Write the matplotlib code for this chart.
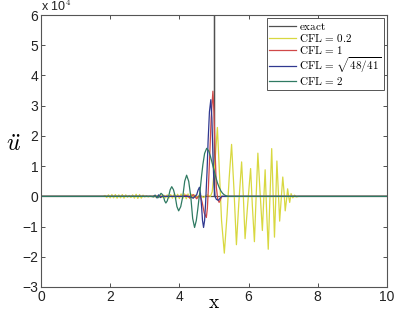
"""
plot.py - second time derivative of u for several CFL numbers
"""

import matplotlib
matplotlib.use("Agg")
import matplotlib.pyplot as plt

# values in units of 1e4
x_exact = [0.0, 5.0, 5.0, 5.0, 10.0]
u_exact = [0.0, 0.0, 7.0, 0.0, 0.0]

x_cfl02 = [0.0, 1.80, 1.85, 1.90, 1.95, 2.00, 2.05, 2.10, 2.15, 2.20, 2.25,
           2.30, 2.35, 2.40, 2.45, 2.50, 2.55, 2.60, 2.65, 2.70, 2.75, 2.80,
           2.85, 2.90, 2.95, 3.00, 3.05, 3.10, 3.15, 3.20, 3.25, 3.30, 3.35,
           3.40, 3.45, 3.50, 3.55, 3.60, 3.65, 3.70, 3.75, 3.80, 3.85, 3.90,
           3.95, 4.00, 4.05, 4.10, 4.15, 4.20, 4.25, 4.30, 4.35, 4.40, 4.45,
           4.50, 4.60, 4.70, 4.80, 4.90, 4.95, 5.02, 5.10, 5.17, 5.22, 5.30,
           5.38, 5.44, 5.51, 5.58, 5.65, 5.72, 5.80, 5.85, 5.90, 5.98, 6.06,
           6.11, 6.17, 6.22, 6.27, 6.33, 6.40, 6.44, 6.48, 6.52, 6.57, 6.62,
           6.67, 6.71, 6.75, 6.79, 6.82, 6.86, 6.90, 6.95, 6.99, 7.03, 7.06,
           7.10, 7.13, 7.16, 7.19, 7.23, 7.28, 7.33, 7.38, 7.45, 10.0]
u_cfl02 = [0.0, 0.0, 0.03, -0.04, 0.05, -0.05, 0.06, -0.05, 0.06, -0.06, 0.05,
           -0.05, 0.06, -0.06, 0.05, -0.03, 0.03, -0.04, 0.05, -0.06, 0.07,
           -0.07, 0.06, -0.06, 0.04, -0.02, 0.02, -0.02, 0.01, -0.01, 0.02,
           -0.02, 0.02, -0.03, 0.03, -0.04, 0.04, -0.05, 0.05, -0.06, 0.06,
           -0.06, 0.07, -0.06, 0.07, -0.07, 0.08, -0.07, 0.08, -0.08, 0.08,
           -0.07, 0.07, -0.06, 0.05, -0.04, 0.04, -0.04, 0.05, 0.0, 0.15, 1.0,
           2.28, 0.5, -0.8, -1.88, -0.6, 0.6, 1.72, 0.2, -1.6, -0.2, 1.14,
           0.0, -1.4, -0.2, 0.92, -0.3, -1.5, 0.0, 1.43, 0.2, -1.13, -0.1,
           0.88, -0.4, -1.75, 0.0, 1.58, 0.1, -1.35, 0.0, 1.17, 0.2, -0.82,
           0.0, 0.64, 0.1, -0.48, -0.1, 0.25, 0.0, -0.2, 0.09, -0.05, 0.04,
           -0.02, 0.0, 0.0]

x_cfl1 = [0.0, 4.10, 4.20, 4.30, 4.40, 4.50, 4.60, 4.66, 4.72, 4.78, 4.81,
          4.84, 4.88, 4.92, 4.97, 5.00, 5.03, 5.07, 5.11, 5.15, 5.19, 5.23,
          10.0]
u_cfl1 = [0.0, 0.0, 0.04, -0.05, 0.06, -0.08, 0.05, -0.2, -0.55, -0.7, -0.4,
          0.3, 1.4, 2.6, 3.48, 2.8, 1.6, 0.3, -0.1, -0.2, -0.1, 0.0, 0.0]

x_cfl_opt = [0.0, 3.25, 3.30, 3.35, 3.40, 3.45, 3.50, 4.30, 4.40, 4.50, 4.54,
             4.58, 4.61, 4.64, 4.67, 4.70, 4.73, 4.76, 4.80, 4.83, 4.87, 4.91,
             4.94, 4.97, 5.00, 5.03, 5.07, 5.13, 5.17, 5.22, 10.0]
u_cfl_opt = [0.0, 0.0, 0.04, -0.05, 0.05, -0.04, 0.0, 0.0, -0.06, 0.05, 0.2,
             0.3, 0.1, -0.3, -0.8, -1.03, -0.8, -0.2, 0.8, 1.8, 2.8, 3.2,
             2.6, 1.4, 0.4, 0.0, -0.1, -0.13, -0.07, 0.0, 0.0]

x_cfl2 = [0.0, 3.20, 3.25, 3.30, 3.38, 3.43, 3.47, 3.51, 3.54, 3.575, 3.61,
          3.65, 3.69, 3.735, 3.78, 3.83, 3.88, 3.93, 3.98, 4.04, 4.10, 4.155,
          4.21, 4.27, 4.33, 4.385, 4.44, 4.49, 4.53, 4.565, 4.60, 4.64, 4.68,
          4.73, 4.79, 4.85, 4.90, 4.95, 5.00, 5.05, 5.10, 5.15, 5.20, 5.25,
          5.30, 5.35, 5.40, 10.0]
u_cfl2 = [0.0, 0.0, -0.02, 0.03, -0.05, 0.03, 0.10, 0.06, 0.0, -0.15, -0.22,
          -0.15, 0.0, 0.22, 0.32, 0.22, 0.0, -0.34, -0.48, -0.34, 0.0, 0.5,
          0.70, 0.5, 0.0, -0.73, -1.03, -0.8, -0.45, -0.1, 0.2, 0.65, 1.05,
          1.42, 1.59, 1.5, 1.32, 1.1, 0.88, 0.65, 0.45, 0.3, 0.18, 0.1, 0.05,
          0.02, 0.0, 0.0]

labels = [r"$\mathrm{exact}$", r"$\mathrm{CFL}\,=\,0.2$",
          r"$\mathrm{CFL}\,=\,1$", r"$\mathrm{CFL}\,=\,\sqrt{48/41}$",
          r"$\mathrm{CFL}\,=\,2$"]
colors = ["#505050", "#d8d840", "#d04848", "#303890", "#2f7a62"]

plt.rcParams["mathtext.fontset"] = "cm"
plt.rcParams["font.family"] = "Liberation Sans"

fig = plt.figure(figsize=(3.96, 3.14), dpi=100)
ax = fig.add_axes([0.1035, 0.086, 0.8735, 0.866])

series = [(x_exact, u_exact), (x_cfl02, u_cfl02), (x_cfl1, u_cfl1),
          (x_cfl_opt, u_cfl_opt), (x_cfl2, u_cfl2)]
for (xs, us), lab, col in zip(series, labels, colors):
    ax.plot(xs, us, color=col, lw=0.9, label=lab)

ax.set_xlim(0, 10)
ax.set_ylim(-3, 6)
ax.set_xticks([0, 2, 4, 6, 8, 10])
ax.set_yticks(range(-3, 7))
ax.tick_params(direction="in", top=True, right=True, length=3, width=0.6,
               labelsize=10, colors="#333333", labelcolor="#222222", pad=2)
for sp in ax.spines.values():
    sp.set_color("#555555")
    sp.set_linewidth(0.8)

ax.text(0.0, 1.005, r"x 10$^4$", transform=ax.transAxes, fontsize=9,
        ha="left", va="bottom", color="#222222")
ax.set_xlabel(r"$\mathrm{x}$", fontsize=14, labelpad=-6)
ax.set_ylabel(r"$\ddot{u}$", fontsize=17, rotation=0)
ax.yaxis.set_label_coords(-0.08, 0.48)

leg = ax.legend(loc="upper right", fontsize=8, labelspacing=0.0,
                handlelength=2.4, handletextpad=0.3, borderpad=0.2,
                borderaxespad=0.3, fancybox=False, framealpha=1,
                edgecolor="#555555")
leg.get_frame().set_linewidth(0.7)

fig.savefig("out.png", dpi=100)
